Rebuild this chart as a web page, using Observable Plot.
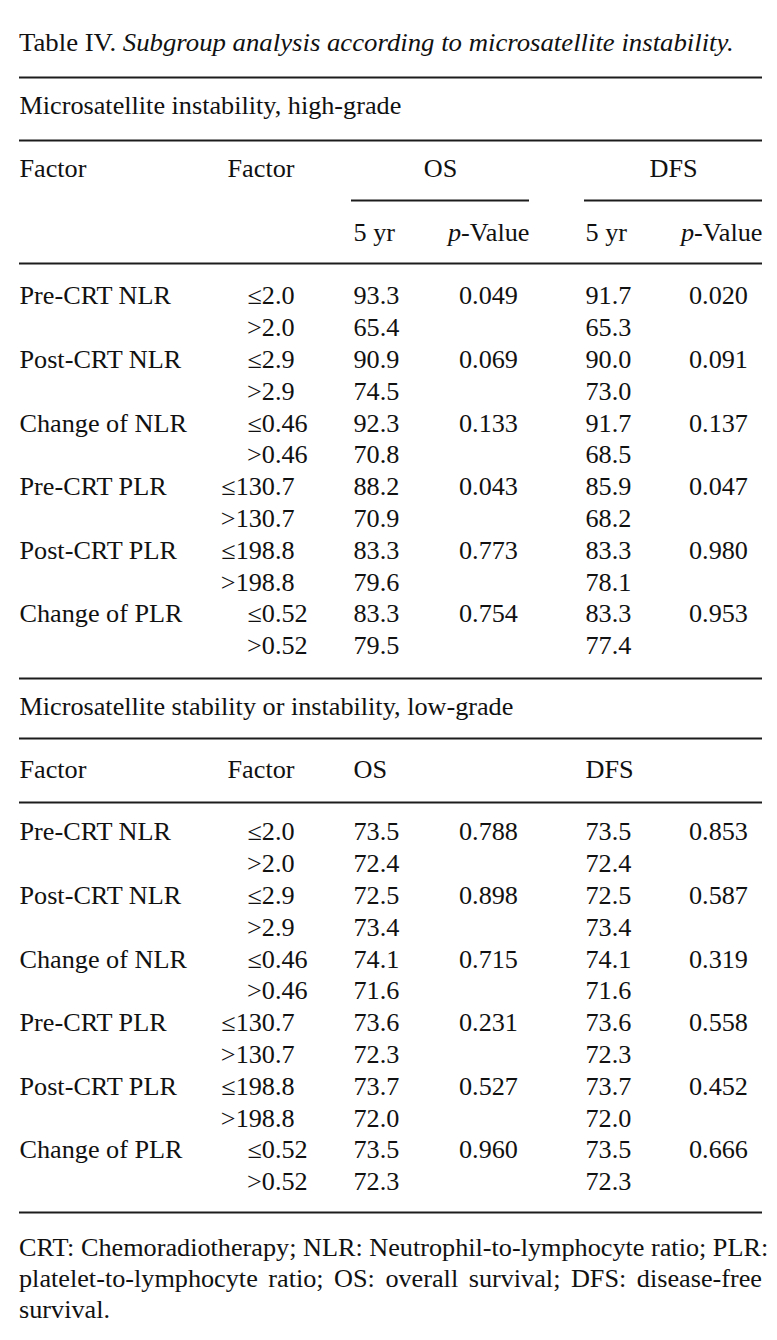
<!DOCTYPE html>
<html>
<head>
<meta charset="utf-8">
<script src="https://cdn.jsdelivr.net/npm/d3@7"></script>
<script src="https://cdn.jsdelivr.net/npm/@observablehq/plot@0.6"></script>
<style>
  html, body { margin: 0; padding: 0; background: #fff; }
  body { width: 777px; font-family: "Liberation Serif", "Times New Roman", serif; color: #111; }
  #title { height: 60px; box-sizing: border-box; padding: 27px 0 0 19px; font-size: 25px; line-height: 32px; white-space: nowrap; }
  .stretch { display: inline-block; transform-origin: 0 50%; }
  #chart svg { display: block; }
  #note { margin-left: 19px; padding-top: 1.5px; font-size: 24.5px; line-height: 31px; transform-origin: 0 0; }
  #note .j { text-align: justify; text-align-last: justify; white-space: nowrap; }
</style>
</head>
<body>
<div id="title"></div>
<div id="chart"></div>
<div id="note"></div>
<script>
// ---------- data ----------
const titleLead = "Table IV.";
const titleItalic = "Subgroup analysis according to microsatellite instability.";
const sectionLabels = ["Microsatellite instability, high-grade", "Microsatellite stability or instability, low-grade"];
const factors = ["Pre-CRT NLR", "Post-CRT NLR", "Change of NLR", "Pre-CRT PLR", "Post-CRT PLR", "Change of PLR"];
const cutoffs = ["≤2.0", ">2.0", "≤2.9", ">2.9", "≤0.46", ">0.46", "≤130.7", ">130.7", "≤198.8", ">198.8", "≤0.52", ">0.52"];
const msiHighOS5 = [93.3, 65.4, 90.9, 74.5, 92.3, 70.8, 88.2, 70.9, 83.3, 79.6, 83.3, 79.5];
const msiHighOSp = ["0.049", "0.069", "0.133", "0.043", "0.773", "0.754"];
const msiHighDFS5 = [91.7, 65.3, 90.0, 73.0, 91.7, 68.5, 85.9, 68.2, 83.3, 78.1, 83.3, 77.4];
const msiHighDFSp = ["0.020", "0.091", "0.137", "0.047", "0.980", "0.953"];
const mssOS5 = [73.5, 72.4, 72.5, 73.4, 74.1, 71.6, 73.6, 72.3, 73.7, 72.0, 73.5, 72.3];
const mssOSp = ["0.788", "0.898", "0.715", "0.231", "0.527", "0.960"];
const mssDFS5 = [73.5, 72.4, 72.5, 73.4, 74.1, 71.6, 73.6, 72.3, 73.7, 72.0, 73.5, 72.3];
const mssDFSp = ["0.853", "0.587", "0.319", "0.558", "0.452", "0.666"];
const footnoteLines = [
  "CRT: Chemoradiotherapy; NLR: Neutrophil-to-lymphocyte ratio; PLR:",
  "platelet-to-lymphocyte ratio; OS: overall survival; DFS: disease-free",
  "survival."
];

// ---------- layout ----------
const STRETCH = 1.07;
const FONT = 24.5;
const TOP = 60, H = 1170;
const X = {
  left: 19, right: 762, decimal: 281, factorHeadEnd: 294,
  os5: 353, osP: 488, osMid: 440, osRuleStart: 351, osEnd: 529,
  dfs5: 585, dfsP: 718, dfsMid: 673, dfsRuleStart: 584, dfsEnd: 762
};
const sections = [
  {top: 77, label: 106, headRule: 140, head: 169, subRule: 200, subHead: 233, bodyRule: 263, first: 296, grouped: true,
   os5: msiHighOS5, osP: msiHighOSp, dfs5: msiHighDFS5, dfsP: msiHighDFSp},
  {top: 678, label: 707, headRule: 738, head: 770, bodyRule: 802, first: 832, grouped: false,
   os5: mssOS5, osP: mssOSp, dfs5: mssDFS5, dfsP: mssDFSp}
];
const PITCH = 31.8, BOTTOM = 1212;

// ---------- build cells ----------
const cells = [];
const rules = [];
const full = y => ({y, x1: X.left, x2: X.right});
sections.forEach((s, si) => {
  rules.push(full(s.top), full(s.headRule), full(s.bodyRule));
  cells.push({t: sectionLabels[si], x: X.left, y: s.label, a: "start"});
  cells.push({t: "Factor", x: X.left, y: s.head, a: "start"});
  cells.push({t: "Factor", x: X.factorHeadEnd, y: s.head, a: "end"});
  if (s.grouped) {
    cells.push({t: "OS", x: X.osMid, y: s.head, a: "middle"});
    cells.push({t: "DFS", x: X.dfsMid, y: s.head, a: "middle"});
    rules.push({y: s.subRule, x1: X.osRuleStart, x2: X.osEnd}, {y: s.subRule, x1: X.dfsRuleStart, x2: X.dfsEnd});
    cells.push({t: "5 yr", x: X.os5, y: s.subHead, a: "start"});
    cells.push({t: "p-Value", x: X.osEnd, y: s.subHead, a: "end"});
    cells.push({t: "5 yr", x: X.dfs5, y: s.subHead, a: "start"});
    cells.push({t: "p-Value", x: X.dfsEnd, y: s.subHead, a: "end"});
  } else {
    cells.push({t: "OS", x: X.os5, y: s.head, a: "start"});
    cells.push({t: "DFS", x: X.dfs5, y: s.head, a: "start"});
  }
  factors.forEach((f, fi) => {
    [0, 1].forEach(k => {
      const i = fi * 2 + k;
      const y = s.first + i * PITCH;
      if (k === 0) cells.push({t: f, x: X.left, y, a: "start"});
      const c = cutoffs[i], dot = c.indexOf(".");
      cells.push({t: c.slice(0, dot + 1), x: X.decimal, y, a: "end"});
      cells.push({t: c.slice(dot + 1), x: X.decimal, y, a: "start"});
      cells.push({t: s.os5[i].toFixed(1), x: X.os5, y, a: "start"});
      cells.push({t: s.dfs5[i].toFixed(1), x: X.dfs5, y, a: "start"});
      if (k === 0) {
        cells.push({t: s.osP[fi], x: X.osP, y, a: "middle"});
        cells.push({t: s.dfsP[fi], x: X.dfsP, y, a: "middle"});
      }
    });
  });
});
rules.push(full(BOTTOM));

// ---------- plot ----------
const plot = Plot.plot({
  width: 777, height: H, margin: 0,
  x: {type: "linear", domain: [0, 777], range: [0, 777], axis: null},
  y: {type: "linear", domain: [TOP, TOP + H], range: [0, H], axis: null},
  style: {fontFamily: "'Liberation Serif', 'Times New Roman', serif", background: "#fff", color: "#111"},
  marks: [
    Plot.ruleY(rules, {y: "y", x1: "x1", x2: "x2", stroke: "#1c1c1c", strokeWidth: 2}),
    ...["start", "middle", "end"].map(a =>
      Plot.text(cells.filter(d => d.a === a), {
        x: "x", y: "y", text: "t", textAnchor: a, lineAnchor: "middle",
        fontSize: FONT, fill: "#111"
      }))
  ]
});

d3.select(plot).selectAll("text").each(function () {
  const el = this;
  const tr = el.getAttribute("transform");
  if (tr) {
    el.setAttribute("transform", tr + ` scale(${STRETCH},1)`);
  } else {
    const x = +el.getAttribute("x") || 0, y = +el.getAttribute("y") || 0;
    el.setAttribute("transform", `translate(${x},${y}) scale(${STRETCH},1) translate(${-x},${-y})`);
  }
  if (el.textContent === "p-Value") {
    el.textContent = "";
    d3.select(el).append("tspan").attr("font-style", "italic").text("p");
    d3.select(el).append("tspan").text("-Value");
  }
});
document.getElementById("chart").appendChild(plot);

// ---------- title & footnote ----------
const title = d3.select("#title").append("span").attr("class", "stretch").style("transform", `scaleX(${STRETCH})`);
title.append("span").text(titleLead + " ");
title.append("i").text(titleItalic);

const note = d3.select("#note")
  .style("width", ((X.right - X.left) / STRETCH) + "px")
  .style("transform", `scaleX(${STRETCH})`);
footnoteLines.forEach((line, i) => {
  note.append("div").attr("class", i < footnoteLines.length - 1 ? "j" : null).text(line);
});
</script>
</body>
</html>
